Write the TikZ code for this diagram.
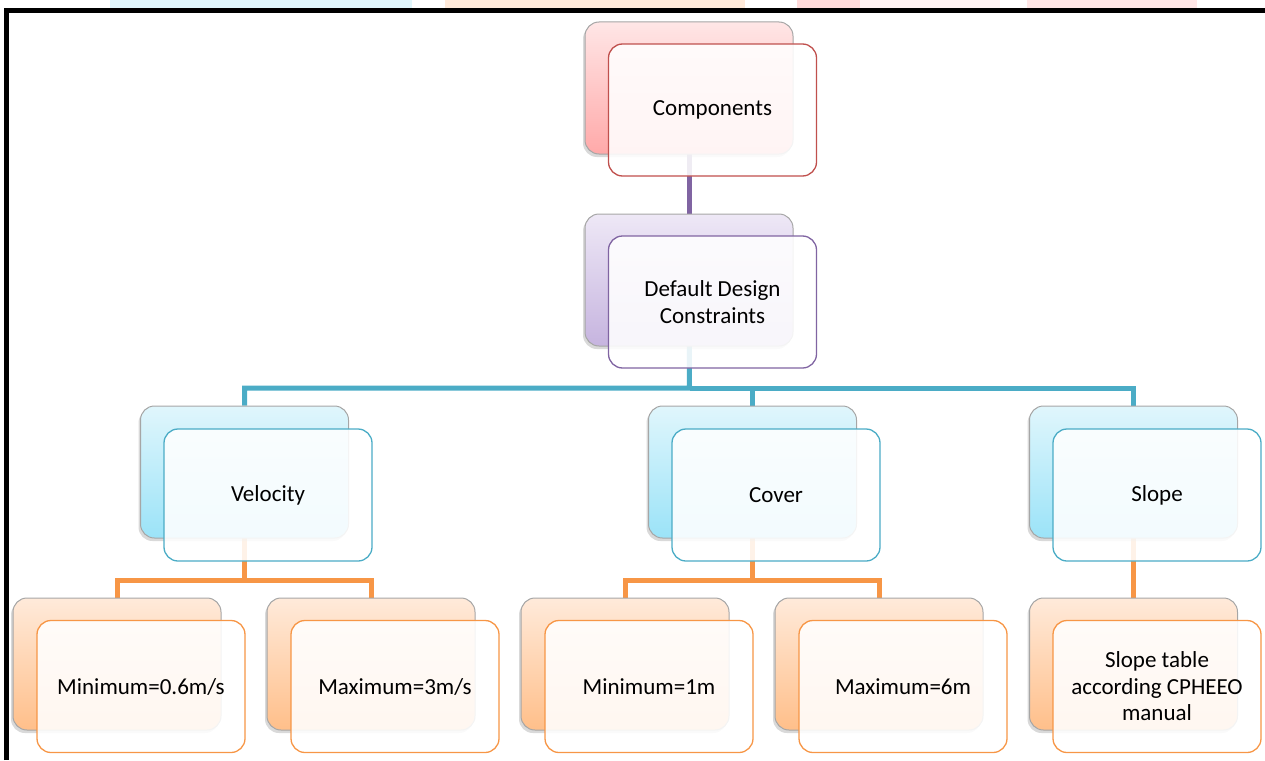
\documentclass[tikz,border=0pt]{standalone}
\usepackage{fontspec}
\setmainfont{Carlito}
\usetikzlibrary{shadows}
\pgfdeclarelayer{background}
\pgfsetlayers{background,main}

\definecolor{redline}{HTML}{C0504D}
\definecolor{purpleline}{HTML}{8064A2}
\definecolor{tealline}{HTML}{4BACC6}
\definecolor{orangeline}{HTML}{F79646}
\definecolor{redtop}{HTML}{FFE6E6}
\definecolor{redbot}{HTML}{FFA9A9}
\definecolor{purpletop}{HTML}{EEE8F6}
\definecolor{purplebot}{HTML}{C6B4DF}
\definecolor{tealtop}{HTML}{E0F6FC}
\definecolor{tealbot}{HTML}{9BE3F8}
\definecolor{orangetop}{HTML}{FFEADA}
\definecolor{orangebot}{HTML}{FFBF8A}

\tikzset{
  backbox/.style={rectangle, rounded corners=14pt, minimum width=208pt, minimum height=132pt,
    inner sep=0pt, draw=black!35, line width=1pt,
    drop shadow={shadow xshift=-2pt, shadow yshift=-3pt, opacity=0.3}},
  frontbox/.style={rectangle, rounded corners=14pt, minimum width=208pt, minimum height=132pt,
    inner sep=0pt, fill=white, fill opacity=0.88, text opacity=1, line width=1.3pt,
    align=center, font=\fontsize{23}{26.5}\selectfont},
  redback/.style={backbox, top color=redtop, bottom color=redbot},
  purpleback/.style={backbox, top color=purpletop, bottom color=purplebot},
  tealback/.style={backbox, top color=tealtop, bottom color=tealbot},
  orangeback/.style={backbox, top color=orangetop, bottom color=orangebot},
  conn/.style={line width=5pt}
}

\begin{document}
\begin{tikzpicture}[x=1pt,y=-1pt]
  \useasboundingbox (0,0) rectangle (1265,760);

  % strip of the page above the frame
  \fill[tealtop] (110,0) rectangle (412,8);
  \fill[orangetop] (445,0) rectangle (745,8);
  \fill[redtop!80!redbot] (797,0) rectangle (860,8);
  \fill[redtop!50] (860,0) rectangle (1000,8);
  \fill[redtop] (1027,0) rectangle (1197,8);
  \draw[line width=5pt] (6.5,760) |- (1265,10.5);

  % level 0 and 1
  \node[redback] (compB) at (689,88) {};
  \node[frontbox, draw=redline] (comp) at (712.5,110) {Components};
  \node[purpleback] (dflB) at (689,280) {};
  \node[frontbox, draw=purpleline] (dfl) at (712.5,302) {Default Design\\Constraints};

  % level 2
  \node[tealback] (velB) at (244.5,472) {};
  \node[frontbox, draw=tealline] (vel) at (268,495) {Velocity};
  \node[tealback] (covB) at (752.5,472) {};
  \node[frontbox, draw=tealline] (cov) at (776,495) {Cover};
  \node[tealback] (slpB) at (1133.5,472) {};
  \node[frontbox, draw=tealline] (slp) at (1157,495) {Slope};

  % level 3
  \node[orangeback] (vminB) at (117,664) {};
  \node[frontbox, draw=orangeline] (vmin) at (141,686.5) {Minimum=0.6m/s};
  \node[orangeback] (vmaxB) at (371,664) {};
  \node[frontbox, draw=orangeline] (vmax) at (395,686.5) {Maximum=3m/s};
  \node[orangeback] (cminB) at (625,664) {};
  \node[frontbox, draw=orangeline] (cmin) at (649,686.5) {Minimum=1m};
  \node[orangeback] (cmaxB) at (879,664) {};
  \node[frontbox, draw=orangeline] (cmax) at (903,686.5) {Maximum=6m};
  \node[orangeback] (stabB) at (1133.5,664) {};
  \node[frontbox, draw=orangeline] (stab) at (1157,686.5) {Slope table\\according CPHEEO\\manual};

  \coordinate (tJ) at (689.5,388);
  \coordinate (vJ) at (244.5,580);
  \coordinate (cJ) at (752.5,580);

  \begin{pgfonlayer}{background}
    \draw[conn, purpleline] (compB.center) -- (dflB.north);
    \draw[conn, tealline] (dflB.center) -- (tJ) -| (velB.north);
    \draw[conn, tealline] (tJ) -| (covB.north);
    \draw[conn, tealline] (tJ) -| (slpB.north);
    \draw[conn, orangeline] (velB.center) -- (vJ) -| (vminB.north);
    \draw[conn, orangeline] (vJ) -| (vmaxB.north);
    \draw[conn, orangeline] (covB.center) -- (cJ) -| (cminB.north);
    \draw[conn, orangeline] (cJ) -| (cmaxB.north);
    \draw[conn, orangeline] (slpB.center) -- (stabB.north);
  \end{pgfonlayer}
\end{tikzpicture}
\end{document}
